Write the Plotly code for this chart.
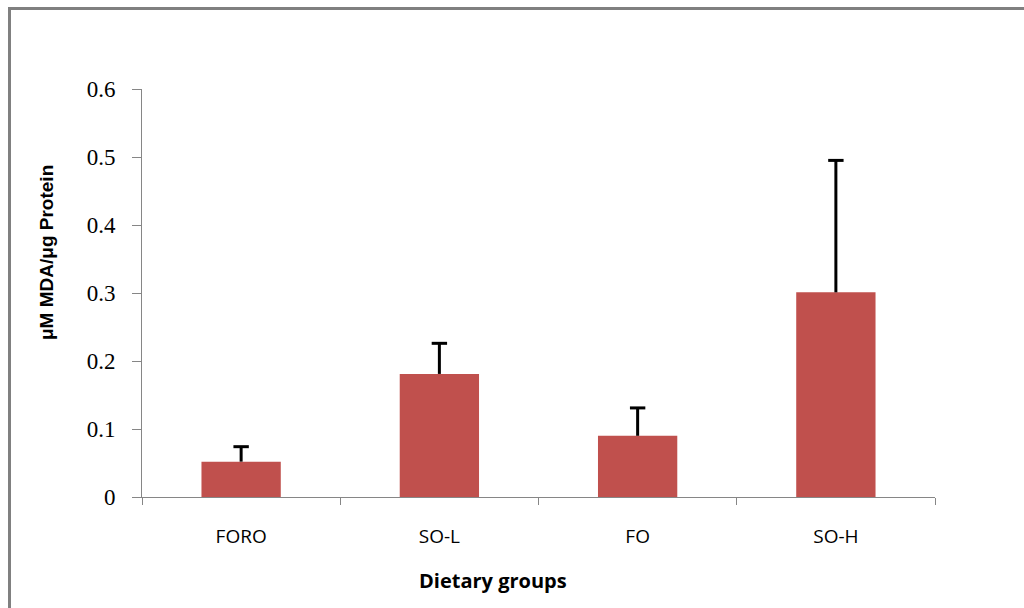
import plotly.graph_objects as go

# MDA levels per dietary group (mean and upper SD)
groups = ["FORO", "SO-L", "FO", "SO-H"]
mda_mean = [0.052, 0.181, 0.090, 0.301]
mda_sd = [0.022, 0.045, 0.041, 0.194]

y_ticks = [0, 0.1, 0.2, 0.3, 0.4, 0.5, 0.6]
y_tick_text = ["0", "0.1", "0.2", "0.3", "0.4", "0.5", "0.6"]

# plot area in pixels
W, H = 1024, 608
L, R, T, B = 142, 935, 89, 497

fig = go.Figure()
fig.add_trace(go.Bar(
    x=groups,
    y=mda_mean,
    marker=dict(color="#C0504D", line=dict(width=0)),
    width=0.4,
))

# one-sided (upper) error bars: stem from bar top plus a cap
stem_x, stem_y = [], []
for g, m, s in zip(groups, mda_mean, mda_sd):
    stem_x += [g, g, None]
    stem_y += [m, m + s, None]
fig.add_trace(go.Scatter(
    x=stem_x, y=stem_y, mode="lines",
    line=dict(color="black", width=3), hoverinfo="skip",
))
fig.add_trace(go.Scatter(
    x=groups, y=[m + s for m, s in zip(mda_mean, mda_sd)], mode="markers",
    marker=dict(symbol="line-ew", size=11, line=dict(color="black", width=3)),
    hoverinfo="skip",
))

gray = "#868686"
fig.update_layout(
    width=W, height=H,
    margin=dict(l=L, r=W - R, t=T, b=H - B, pad=0),
    paper_bgcolor="white", plot_bgcolor="white",
    showlegend=False,
    xaxis=dict(
        type="category",
        tickson="boundaries",
        ticks="outside", ticklen=7, tickcolor=gray, tickwidth=1,
        showline=True, linecolor=gray, linewidth=1,
        showgrid=False, zeroline=False,
        tickfont=dict(family="Open Sans, Liberation Sans, sans-serif", size=19, color="black"),
        ticklabelstandoff=22,
        range=[-0.5, 3.5],
    ),
    yaxis=dict(
        range=[0, 0.6],
        tickvals=y_ticks, ticktext=y_tick_text,
        ticks="outside", ticklen=9, tickcolor=gray, tickwidth=1,
        showline=True, linecolor=gray, linewidth=1,
        showgrid=False, zeroline=False,
        tickfont=dict(family="Liberation Serif, serif", size=23, color="black"),
        ticklabelstandoff=12,
    ),
    font=dict(family="Liberation Sans, Arial, sans-serif", color="black"),
)

def px_x(p):
    return (p - L) / (R - L)

def px_y(p):
    return (B - p) / (B - T)

# axis titles
fig.add_annotation(
    text="<b>μM MDA/μg Protein</b>", textangle=-90,
    xref="paper", yref="paper", x=px_x(46), y=px_y(253),
    xanchor="center", yanchor="middle",
    showarrow=False, font=dict(family="Liberation Sans, Arial, sans-serif", size=19, color="black"),
)
fig.add_annotation(
    text="<b>Dietary groups</b>",
    xref="paper", yref="paper", x=px_x(493), y=px_y(580),
    xanchor="center", yanchor="middle",
    showarrow=False, font=dict(family="Open Sans, Liberation Sans, sans-serif", size=20, color="black"),
)

# outer chart frame (top and left edges)
frame = dict(color="#808080", width=3)
fig.add_shape(type="line", xref="paper", yref="paper",
              x0=px_x(9.5), x1=px_x(1030), y0=px_y(8.5), y1=px_y(8.5), line=frame)
fig.add_shape(type="line", xref="paper", yref="paper",
              x0=px_x(9.5), x1=px_x(9.5), y0=px_y(7), y1=px_y(620), line=frame)

fig.write_html("out.html")
